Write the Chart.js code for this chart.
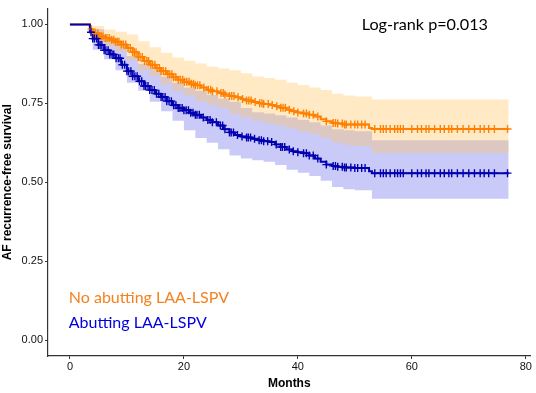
<!DOCTYPE html>
<html>
<head>
<meta charset="utf-8">
<script src="https://cdn.jsdelivr.net/npm/chart.js@4"></script>
<style>
  html, body { margin: 0; padding: 0; background: #fff; }
  #wrap { width: 536px; height: 393px; position: relative; }
</style>
</head>
<body>
<div id="wrap"><canvas id="km"></canvas></div>
<script>
// Kaplan-Meier step values (months, survival)
const noAbutTimes = [0, 3.2, 3.5, 4, 5, 6, 7, 8, 9, 10, 11, 12, 13, 14, 15, 16, 17, 18, 19, 20, 21, 22, 23, 24, 25, 26, 27, 28, 29, 30, 31, 32, 33, 34, 35, 36, 37, 38, 39, 40, 41, 42, 43, 44, 45, 46, 47, 48, 50, 52.5, 53, 77];
const noAbutSurv = [1, 1, 0.985, 0.972, 0.962, 0.957, 0.951, 0.945, 0.936, 0.925, 0.912, 0.897, 0.884, 0.872, 0.862, 0.852, 0.842, 0.833, 0.825, 0.818, 0.812, 0.807, 0.8, 0.793, 0.788, 0.783, 0.778, 0.773, 0.769, 0.764, 0.759, 0.754, 0.75, 0.748, 0.745, 0.741, 0.736, 0.73, 0.725, 0.721, 0.718, 0.714, 0.708, 0.7, 0.693, 0.688, 0.686, 0.683, 0.683, 0.672, 0.669, 0.669];

const abutTimes = [0, 3.2, 3.5, 4, 5, 6, 7, 8, 9, 10, 11, 12, 13, 14, 15, 16, 17, 18, 19, 20, 21, 22, 23, 24, 25, 26, 27, 28, 29, 30, 31, 32, 33, 34, 35, 36, 37, 38, 39, 40, 41, 42, 43, 44, 45, 46, 47, 48, 50, 52.5, 53, 77];
const abutSurv = [1, 1, 0.975, 0.955, 0.935, 0.918, 0.905, 0.893, 0.872, 0.852, 0.836, 0.82, 0.805, 0.792, 0.78, 0.77, 0.757, 0.744, 0.735, 0.728, 0.72, 0.714, 0.705, 0.697, 0.69, 0.68, 0.668, 0.658, 0.65, 0.645, 0.642, 0.638, 0.633, 0.63, 0.628, 0.62, 0.612, 0.604, 0.598, 0.595, 0.592, 0.585, 0.575, 0.565, 0.556, 0.552, 0.549, 0.547, 0.545, 0.535, 0.529, 0.529];

// confidence bands
const bandTimes = [0, 3.2, 4, 6, 8, 10, 12, 14, 16, 18, 20, 22, 24, 26, 28, 30, 32, 34, 36, 38, 40, 42, 44, 46, 48, 50, 53, 77];
const noAbutUpper = [1, 1, 0.995, 0.984, 0.977, 0.968, 0.947, 0.928, 0.91, 0.895, 0.885, 0.876, 0.866, 0.86, 0.855, 0.845, 0.835, 0.83, 0.825, 0.815, 0.808, 0.8, 0.792, 0.78, 0.775, 0.772, 0.762, 0.762];
const noAbutLower = [1, 1, 0.95, 0.93, 0.915, 0.885, 0.855, 0.835, 0.81, 0.79, 0.775, 0.757, 0.745, 0.735, 0.716, 0.705, 0.695, 0.687, 0.68, 0.67, 0.66, 0.652, 0.64, 0.625, 0.618, 0.615, 0.593, 0.593];
const abutUpper = [1, 1, 0.985, 0.955, 0.94, 0.9, 0.875, 0.86, 0.835, 0.815, 0.8, 0.79, 0.777, 0.765, 0.755, 0.735, 0.722, 0.718, 0.712, 0.705, 0.698, 0.69, 0.68, 0.668, 0.665, 0.662, 0.633, 0.633];
const abutLower = [1, 1, 0.92, 0.89, 0.855, 0.815, 0.79, 0.755, 0.725, 0.695, 0.665, 0.64, 0.625, 0.605, 0.585, 0.575, 0.57, 0.565, 0.555, 0.54, 0.53, 0.52, 0.505, 0.485, 0.478, 0.475, 0.448, 0.448];

// censoring times (+ marks)
const noAbutCensor = [3.8, 4.2, 4.5, 4.9, 5.2, 5.5, 5.8, 6.2, 6.5, 6.9, 7.3, 7.7, 8, 8.3, 8.6, 9, 9.4, 9.8, 10.2, 10.6, 11, 11.3, 11.6, 12, 12.3, 12.7, 13.1, 13.5, 13.8, 14.2, 14.5, 14.9, 15.3, 15.7, 16, 16.4, 16.8, 17.2, 17.5, 17.9, 18.2, 18.6, 19, 19.4, 19.8, 20.1, 20.5, 20.9, 21.3, 21.7, 22, 22.4, 22.8, 23.5, 24.3, 24.7, 25, 25.8, 26.5, 26.9, 27.2, 28, 28.4, 28.8, 29.5, 30.3, 31, 31.4, 31.8, 32.5, 33.3, 33.7, 34, 34.8, 35.5, 36.3, 37, 37.4, 37.8, 38.5, 39.3, 40, 41, 41.5, 42, 42.7, 43.5, 45, 46.2, 46.6, 47, 47.8, 48.2, 48.5, 49.3, 50, 50.5, 51.2, 51.8, 53.5, 54.5, 55, 55.5, 56.2, 57, 57.5, 58, 58.5, 60, 61, 61.7, 62.5, 63, 64, 65, 65.7, 66.5, 67, 68, 69, 70, 71, 72, 72.7, 73.5, 74.5, 76.8];
const abutCensor = [3.7, 4, 4.3, 4.7, 5, 5.3, 5.6, 6, 6.3, 6.7, 7, 7.4, 7.7, 8.1, 8.5, 8.8, 9.2, 9.6, 10, 10.3, 10.7, 11, 11.4, 11.8, 12.2, 12.6, 13, 13.3, 13.7, 14, 14.4, 14.8, 15.2, 15.6, 16, 16.3, 16.7, 17, 17.4, 17.8, 18.2, 18.6, 19, 19.3, 19.7, 20, 20.4, 20.8, 21.2, 21.6, 22, 22.3, 22.7, 23.4, 24.2, 24.6, 25, 25.7, 26.4, 26.8, 27.2, 28, 28.3, 28.7, 29.4, 30.2, 31, 31.3, 31.7, 32.4, 33.2, 33.6, 34, 34.7, 35.4, 36.2, 37, 37.3, 37.7, 38.5, 39.2, 40, 41, 41.5, 42, 42.7, 43.5, 45, 46.2, 46.6, 47, 47.8, 48.2, 48.5, 49.3, 50, 50.5, 51.2, 51.8, 53.5, 54.5, 55, 55.5, 56.2, 57, 57.5, 58, 58.5, 60, 61, 61.7, 62.5, 63, 64, 65, 65.7, 66.5, 67, 68, 69, 70, 71, 72, 72.7, 73.5, 74.5, 76.8];

const xTicks = [0, 20, 40, 60, 80];
const yTicks = [0, 0.25, 0.5, 0.75, 1];

const ORANGE = '#FF8000';
const BLUE = '#0000B0';

function pts(xs, ys) {
  return xs.map((x, i) => ({ x: x, y: ys[i] }));
}

// survival value at time t (step lookup in the KM arrays)
function survAt(times, surv, t) {
  let v = surv[0];
  for (let i = 0; i < times.length; i++) {
    if (times[i] <= t) v = surv[i];
  }
  return v;
}

function censorPts(ct, times, surv) {
  return ct.map(t => ({ x: t, y: survAt(times, surv, t) }));
}

const bandStyle = { borderWidth: 0, pointRadius: 0, stepped: 'before', order: 10 };

const textPlugin = {
  id: 'kmText',
  afterDraw(chart) {
    const ctx = chart.ctx;
    const xs = chart.scales.x, ys = chart.scales.y;
    ctx.save();
    ctx.textBaseline = 'middle';
    ctx.textAlign = 'left';
    ctx.font = '16.2px Lato';
    ctx.fillStyle = '#000';
    ctx.fillText('Log-rank p=0.013', xs.getPixelForValue(51.2), ys.getPixelForValue(1.0));
    ctx.font = '16px Lato';
    ctx.fillStyle = '#F58220';
    ctx.fillText('No abutting LAA-LSPV', xs.getPixelForValue(-0.2), ys.getPixelForValue(0.135));
    ctx.fillStyle = '#0000E0';
    ctx.fillText('Abutting LAA-LSPV', xs.getPixelForValue(-0.2), ys.getPixelForValue(0.055));
    ctx.restore();
  }
};

new Chart(document.getElementById('km'), {
  type: 'line',
  data: {
    datasets: [
      Object.assign({ data: pts(bandTimes, noAbutUpper), fill: '+1', backgroundColor: 'rgba(255,190,80,0.33)' }, bandStyle),
      Object.assign({ data: pts(bandTimes, noAbutLower), fill: false }, bandStyle),
      Object.assign({ data: pts(bandTimes, abutUpper), fill: '+1', backgroundColor: 'rgba(80,80,235,0.3)' }, bandStyle),
      Object.assign({ data: pts(bandTimes, abutLower), fill: false }, bandStyle),
      {
        data: pts(noAbutTimes, noAbutSurv),
        borderColor: ORANGE, borderWidth: 2, pointRadius: 0, stepped: 'before', fill: false, order: 3
      },
      {
        data: pts(abutTimes, abutSurv),
        borderColor: BLUE, borderWidth: 2, pointRadius: 0, stepped: 'before', fill: false, order: 2
      },
      {
        type: 'scatter',
        data: censorPts(noAbutCensor, noAbutTimes, noAbutSurv),
        pointStyle: 'cross', pointRadius: 4, borderColor: ORANGE, borderWidth: 1.4,
        showLine: false, order: 1
      },
      {
        type: 'scatter',
        data: censorPts(abutCensor, abutTimes, abutSurv),
        pointStyle: 'cross', pointRadius: 4, borderColor: BLUE, borderWidth: 1.4,
        showLine: false, order: 0
      }
    ]
  },
  options: {
    responsive: true,
    maintainAspectRatio: false,
    animation: false,
    layout: { padding: { top: 4, right: 5, left: 0, bottom: 0 } },
    plugins: {
      legend: { display: false },
      tooltip: { enabled: false }
    },
    scales: {
      x: {
        type: 'linear',
        min: -3.85,
        max: 80.85,
        afterBuildTicks: axis => { axis.ticks = xTicks.map(v => ({ value: v })); },
        afterFit: axis => { axis.height = 37; },
        grid: { drawOnChartArea: false, tickLength: 3, color: '#333', lineWidth: 1 },
        border: { color: '#333', width: 1.2 },
        ticks: { color: '#111', font: { family: 'Arial', size: 11 }, padding: 1, maxRotation: 0 },
        title: { display: true, text: 'Months', color: '#000', font: { family: 'Arial', size: 12, weight: 'bold' }, padding: { top: 0, bottom: 2 } }
      },
      y: {
        type: 'linear',
        min: -0.05,
        max: 1.05,
        afterBuildTicks: axis => { axis.ticks = yTicks.map(v => ({ value: v })); },
        afterFit: axis => { axis.width = 48; },
        grid: { drawOnChartArea: false, tickLength: 3, color: '#333', lineWidth: 1 },
        border: { color: '#333', width: 1.2 },
        ticks: { color: '#111', font: { family: 'Arial', size: 11 }, padding: 2, callback: v => v.toFixed(2) },
        title: { display: true, text: 'AF recurrence-free survival', color: '#000', font: { family: 'Arial', size: 12, weight: 'bold' }, padding: { top: 0, bottom: 2 } }
      }
    }
  },
  plugins: [textPlugin]
});
</script>
</body>
</html>
